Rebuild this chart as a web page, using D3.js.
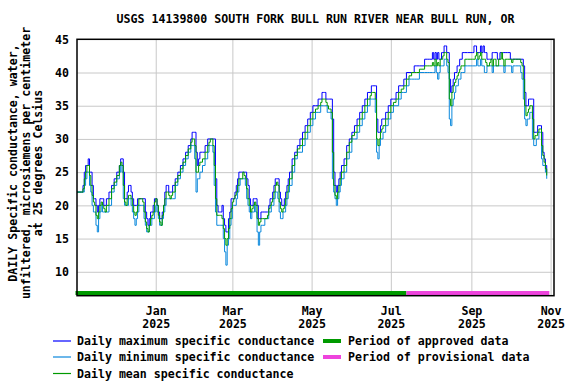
<!DOCTYPE html>
<html><head><meta charset="utf-8">
<script src="https://cdn.jsdelivr.net/npm/d3@7"></script>
<style>
body{margin:0;background:#fff}
svg{display:block}
text{font-family:"DejaVu Sans Mono",monospace;font-weight:bold;font-size:11.6px;fill:#000}
</style>
</head><body><svg id="c" width="576" height="384"></svg>
<script>
const title = "USGS 14139800 SOUTH FORK BULL RUN RIVER NEAR BULL RUN, OR";
const yTitleLines = ["DAILY Specific conductance, water,", "unfiltered, microsiemens per centimeter", "at 25 degrees Celsius"];
const yTicks = [10, 15, 20, 25, 30, 35, 40, 45];
const xTicks = ["2025-01-01", "2025-03-01", "2025-05-01", "2025-07-01", "2025-09-01", "2025-11-01"];

const dates = [
"2024-11-01","2024-11-05","2024-11-06","2024-11-07","2024-11-08","2024-11-09","2024-11-10","2024-11-11","2024-11-12","2024-11-13","2024-11-14","2024-11-15","2024-11-16","2024-11-17","2024-11-18","2024-11-19","2024-11-20","2024-11-21","2024-11-22","2024-11-23","2024-11-24","2024-11-26","2024-11-28","2024-11-30",
"2024-12-02","2024-12-04","2024-12-05","2024-12-06","2024-12-07","2024-12-08","2024-12-09","2024-12-10","2024-12-11","2024-12-12","2024-12-13","2024-12-14","2024-12-15","2024-12-16","2024-12-17","2024-12-18","2024-12-19","2024-12-21","2024-12-22","2024-12-23","2024-12-24","2024-12-25","2024-12-26","2024-12-27","2024-12-28","2024-12-29","2024-12-30","2024-12-31",
"2025-01-01","2025-01-02","2025-01-03","2025-01-04","2025-01-05","2025-01-06","2025-01-07","2025-01-08","2025-01-09","2025-01-10","2025-01-11","2025-01-12","2025-01-13","2025-01-14","2025-01-16","2025-01-18","2025-01-20","2025-01-22","2025-01-24","2025-01-26","2025-01-28","2025-01-29","2025-01-30","2025-01-31",
"2025-02-01","2025-02-02","2025-02-03","2025-02-04","2025-02-06","2025-02-08","2025-02-10","2025-02-11","2025-02-12","2025-02-13","2025-02-14","2025-02-15","2025-02-16","2025-02-17","2025-02-18","2025-02-19","2025-02-20","2025-02-21","2025-02-22","2025-02-23","2025-02-24","2025-02-25","2025-02-26","2025-02-27","2025-02-28",
"2025-03-01","2025-03-02","2025-03-03","2025-03-04","2025-03-05","2025-03-06","2025-03-07","2025-03-08","2025-03-09","2025-03-10","2025-03-11","2025-03-12","2025-03-13","2025-03-14","2025-03-15","2025-03-16","2025-03-17","2025-03-18","2025-03-19","2025-03-20","2025-03-21","2025-03-22","2025-03-23","2025-03-24","2025-03-26","2025-03-28","2025-03-29","2025-03-30","2025-03-31",
"2025-04-01","2025-04-02","2025-04-03","2025-04-04","2025-04-05","2025-04-06","2025-04-07","2025-04-08","2025-04-09","2025-04-10","2025-04-11","2025-04-12","2025-04-13","2025-04-14","2025-04-16","2025-04-18","2025-04-20","2025-04-22","2025-04-24","2025-04-26","2025-04-28","2025-04-30",
"2025-05-02","2025-05-04","2025-05-06","2025-05-08","2025-05-09","2025-05-10","2025-05-11","2025-05-12","2025-05-13","2025-05-14","2025-05-15","2025-05-16","2025-05-17","2025-05-18","2025-05-19","2025-05-20","2025-05-21","2025-05-22","2025-05-23","2025-05-24","2025-05-26","2025-05-28","2025-05-30",
"2025-06-01","2025-06-03","2025-06-05","2025-06-07","2025-06-09","2025-06-11","2025-06-13","2025-06-15","2025-06-16","2025-06-17","2025-06-18","2025-06-19","2025-06-20","2025-06-21","2025-06-22","2025-06-23","2025-06-24","2025-06-25","2025-06-27","2025-06-29",
"2025-07-01","2025-07-03","2025-07-05","2025-07-07","2025-07-09","2025-07-11","2025-07-13","2025-07-15","2025-07-17","2025-07-19","2025-07-21","2025-07-23","2025-07-25","2025-07-27","2025-07-29","2025-07-31",
"2025-08-02","2025-08-03","2025-08-04","2025-08-05","2025-08-06","2025-08-07","2025-08-08","2025-08-09","2025-08-10","2025-08-11","2025-08-12","2025-08-13","2025-08-14","2025-08-15","2025-08-16","2025-08-17","2025-08-18","2025-08-19","2025-08-20","2025-08-21","2025-08-22","2025-08-23","2025-08-24","2025-08-25","2025-08-27","2025-08-29","2025-08-31",
"2025-09-02","2025-09-03","2025-09-04","2025-09-05","2025-09-06","2025-09-07","2025-09-08","2025-09-09","2025-09-10","2025-09-11","2025-09-12","2025-09-13","2025-09-14","2025-09-15","2025-09-16","2025-09-17","2025-09-18","2025-09-19","2025-09-20","2025-09-21","2025-09-22","2025-09-23","2025-09-24","2025-09-25","2025-09-26","2025-09-27","2025-09-29",
"2025-10-01","2025-10-02","2025-10-03","2025-10-05","2025-10-07","2025-10-09","2025-10-10","2025-10-11","2025-10-12","2025-10-13","2025-10-14","2025-10-15","2025-10-16","2025-10-17","2025-10-18","2025-10-19","2025-10-20","2025-10-21","2025-10-22","2025-10-23","2025-10-24","2025-10-25","2025-10-26","2025-10-27","2025-10-28","2025-10-29"
];

const maxValues = [
22,22,23,25,26,26,27,25,25,23,21,21,20,19,20,21,21,21,20,20,21,22,23,24,
25,26,27,27,25,21,21,22,23,23,22,21,20,20,20,21,21,21,21,21,19,18,17,18,19,19,20,21,
21,20,19,18,18,19,20,22,23,23,22,22,22,23,24,25,26,27,28,29,30,31,31,31,
28,26,27,28,28,29,30,30,30,30,30,30,24,20,19,19,19,20,18,17,16,16,18,19,21,
21,21,22,23,24,25,25,25,25,25,25,24,23,21,20,20,21,21,21,20,18,18,19,19,19,19,20,21,21,
22,23,24,24,24,22,21,20,20,21,22,23,24,25,27,28,29,30,31,32,33,34,
35,35,36,36,37,37,37,36,36,36,36,36,33,25,23,22,23,24,25,26,27,29,30,
31,32,33,34,35,36,37,37,38,38,38,38,33,31,31,32,33,33,34,35,
36,36,37,38,38,39,40,40,40,41,41,41,41,42,42,42,
43,42,43,42,43,42,42,43,43,44,44,43,43,39,37,38,39,40,40,41,41,42,42,43,43,43,43,
43,44,44,43,43,43,44,43,44,43,43,42,42,42,42,43,43,43,43,42,42,43,43,43,43,43,43,
42,42,42,42,42,42,42,41,37,35,35,36,36,36,36,31,31,31,32,32,32,31,28,27,26,25
];

const meanValues = [
22,22,22.5,24,25,26,26,24.5,23,21.5,20.5,20,18.5,18,19,20,20.5,20,19.5,19,20,21,22.5,23.5,
24.5,26,26.5,26,23,20.5,20,21,21.5,21.5,21,20,19,18.5,19,20,21,21,20.5,19,17.5,16.5,16,17,18,18.5,19,20.5,
21,20,18.5,17.5,17,18.5,20,21,22,22,21.5,21,21.5,22,23.5,24.5,25.5,26.5,27.5,28.5,29.5,30,30,29,
25,25,26,26.5,27,28,29,29.5,30,30,29,26,21,18.5,18.5,18.5,18.5,18,16.5,15,14,15,16.5,18,19.5,
20.5,21,21.5,22,23,24,24,24,25,24.5,24,22.5,21,20,19,19.5,20,20.5,20,18,17,17.5,18,18,18,18.5,19.5,20,20.5,
21,22,23,23.5,23,20.5,19.5,19,19.5,20,21,22,23,24,26,27.5,28.5,29,30,31,32,33,
34,34.5,35,35.5,36,36,36,35.5,35,34.5,34.5,34,28,23,21.5,21,22,23,24,25,26,28,29.5,
30.5,31,32,33,34,35,36,36.5,37,37,37,36,30,29,30,31,31.5,32,33,34,
35,35.5,36,37,37.5,38,39,39.5,40,40,40,40.5,40.5,41,41,41,
41.5,41,42,41,41.5,41,42,42,42.5,43,43,42,41.5,36,35,37,38,38.5,39,39.5,40,40.5,41,41,42,42,42,
42,42,42.5,43,42,42.5,43,42,42,42,41.5,41,41,41.5,42,41,42,42,41,41,42,42,43,42,41,42,42,
42,41.5,42,42,42,41.5,41,39,35,33.5,34,34.5,35,35,33,30,30.5,30.5,31,31.5,31.5,29,27.5,26.5,25.5,24.5
];

const minValues = [
22,22,22,23,24,25,25,23,22,20,19,19,17,16,18,19,20,19,19,19,19,20,22,23,
24,25,26,25,21,20,20,20,21,21,20,19,18,17,18,19,20,20,20,18,17,16,16,17,17,18,18,19,
20,19,18,17,17,18,19,20,21,21,21,21,21,21,23,24,25,26,27,28,29,29,29,27,
22,24,24,25,26,27,28,29,29,29,28,23,19,17,17,17,17,17,15,13,11,14,15,17,18,
20,20,20,21,22,23,24,24,24,24,23,21,20,19,18,19,19,20,19,16,14,16,17,17,18,18,19,19,20,
20,21,22,22,21,19,18,18,19,19,20,21,22,23,25,27,28,28,29,30,31,32,
33,34,34,35,35,35,35,35,34,34,34,33,24,22,21,20,21,22,23,24,25,27,28,
30,30,31,32,33,34,35,36,36,36,36,34,28,27,29,30,30,31,32,33,
34,35,35,36,37,37,38,39,39,39,39,40,40,40,40,40,
40,40,41,40,39,40,41,41,41,42,42,41,40,33,32,35,36,37,38,38,39,39,40,40,41,41,41,
41,41,41,42,41,41,42,41,41,40,40,41,41,41,41,40,41,41,41,41,41,41,41,41,40,41,41,
41,40,41,41,41,40,39,36,33,32,33,33,34,34,30,29,29,30,30,31,31,27,26,26,25,24
];

const periodNames = ["Period of approved data", "Period of provisional data"];
const periodStarts = ["2024-11-01", "2025-07-13"];
const periodEnds = ["2025-07-13", "2025-10-31"];

const seriesNames = ["Daily maximum specific conductance", "Daily minimum specific conductance", "Daily mean specific conductance"];
const seriesColors = ["#0000ff", "#0a88dc", "#009a00"];
const periodColors = ["#009a00", "#ee44dd"];

const parse = d3.timeParse("%Y-%m-%d");
const svg = d3.select("#c");
const L = 77, R = 554, T = 39.3, B = 295.7;

const x = d3.scaleTime().domain([new Date(2024, 10, 1), new Date(2025, 10, 4)]).range([76.5, 554.5]);
const y = d3.scaleLinear().domain([6.4, 45]).range([B, T]);

// gridlines
svg.append("g").attr("transform", `translate(${L},0)`)
  .call(d3.axisLeft(y).tickValues(yTicks.filter(v => v < 45)).tickSize(-(R - L)).tickFormat(""))
  .call(g => g.select(".domain").remove())
  .call(g => g.selectAll("line").attr("stroke", "#c8c8c8").attr("stroke-width", 1));
svg.append("g").attr("transform", `translate(0,${B})`)
  .call(d3.axisBottom(x).tickValues(xTicks.map(parse)).tickSize(-(B - T)).tickFormat(""))
  .call(g => g.select(".domain").remove())
  .call(g => g.selectAll("line").attr("stroke", "#c8c8c8").attr("stroke-width", 1));

// data lines
svg.append("clipPath").attr("id", "clip").append("rect").attr("x", L).attr("y", T).attr("width", R - L).attr("height", B - T);
const pts = dates.map(parse);
const seriesValues = [maxValues, minValues, meanValues];
seriesValues.forEach((vals, i) => {
  const line = d3.line().x((d, j) => x(pts[j])).y(d => y(d)).curve(d3.curveStepAfter);
  svg.append("path").attr("clip-path", "url(#clip)")
    .attr("d", line(vals)).attr("fill", "none").attr("stroke", seriesColors[i]).attr("stroke-width", 1);
});

// period bars
periodNames.forEach((n, i) => {
  svg.append("line")
    .attr("x1", i === 0 ? x(parse(periodStarts[i])) - 1 : x(parse(periodStarts[i])))
    .attr("x2", x(parse(periodEnds[i])))
    .attr("y1", 293).attr("y2", 293)
    .attr("stroke", periodColors[i]).attr("stroke-width", 4);
});

// frame
svg.append("rect").attr("x", L).attr("y", T).attr("width", R - L).attr("height", B - T)
  .attr("fill", "none").attr("stroke", "#000").attr("stroke-width", 1.5);

// y axis labels
svg.append("g").attr("transform", `translate(${L},0)`)
  .call(d3.axisLeft(y).tickValues(yTicks).tickSize(0).tickPadding(8))
  .call(g => g.select(".domain").remove())
  .call(g => g.selectAll("text").attr("font-size", null).attr("font-family", null));

// x axis labels
const fmtM = d3.timeFormat("%b"), fmtY = d3.timeFormat("%Y");
const xa = svg.append("g").attr("transform", `translate(0,${B})`)
  .call(d3.axisBottom(x).tickValues(xTicks.map(parse)).tickSize(0).tickFormat(""))
  .call(g => g.select(".domain").remove());
xa.selectAll(".tick").each(function(d) {
  const t = d3.select(this).select("text").attr("y", 0).attr("dy", null).attr("font-size", null).attr("font-family", null);
  t.append("tspan").attr("x", 0).attr("y", 19.5).text(fmtM(d));
  t.append("tspan").attr("x", 0).attr("y", 32.5).text(fmtY(d));
});

// title
svg.append("text").attr("x", 315.5).attr("y", 23).attr("text-anchor", "middle").text(title);

// y title
const yt = svg.append("g").attr("transform", "translate(0,163) rotate(-90)");
[16.5, 29.5, 42].forEach((b, i) => {
  yt.append("text").attr("x", 0).attr("y", b).attr("text-anchor", "middle").text(yTitleLines[i]);
});

// legend
const legY = [341, 357, 373.5];
seriesNames.forEach((n, i) => {
  svg.append("line").attr("x1", 53).attr("x2", 71).attr("y1", legY[i]).attr("y2", legY[i])
    .attr("stroke", seriesColors[i]).attr("stroke-width", 1.2);
  svg.append("text").attr("x", 77).attr("y", legY[i] + 4).text(n);
});
periodNames.forEach((n, i) => {
  svg.append("line").attr("x1", 323).attr("x2", 341).attr("y1", legY[i]).attr("y2", legY[i])
    .attr("stroke", periodColors[i]).attr("stroke-width", 4);
  svg.append("text").attr("x", 348).attr("y", legY[i] + 4).text(n);
});
</script>
</body></html>
